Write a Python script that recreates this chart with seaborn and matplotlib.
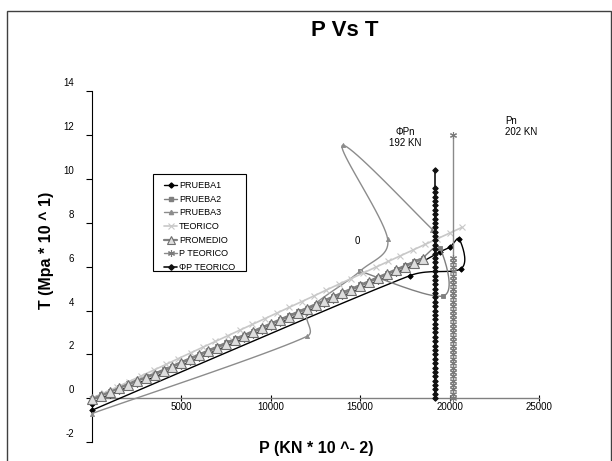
import numpy as np
import matplotlib
matplotlib.use("Agg")
import matplotlib.pyplot as plt
from matplotlib.lines import Line2D
from matplotlib.patches import Rectangle
from matplotlib.transforms import ScaledTranslation
import seaborn as sns

# ---------------- data: P (KN * 10^-2) vs T (Mpa * 10^1) ----------------
prueba1_p = [0, 500, 1000, 1500, 2000, 2500, 3000, 3500, 4000, 4500, 5000, 5500,
             6000, 6500, 7000, 7500, 8000, 8500, 9000, 9500, 10000, 10500, 11000,
             11500, 12000, 12500, 13000, 13500, 14000, 14500, 15000, 15500, 16000,
             16500, 17000, 17500, 18000, 18500, 19460, 20020, 20545, 20650, 17800, 0]
prueba1_t = [-0.25, 0.00, 0.16, 0.33, 0.50, 0.66, 0.82, 0.96, 1.14, 1.31, 1.49, 1.67,
             1.84, 2.02, 2.19, 2.37, 2.55, 2.72, 2.90, 3.07, 3.25, 3.43, 3.60,
             3.78, 3.95, 4.13, 4.31, 4.48, 4.66, 4.83, 5.01, 5.19, 5.36,
             5.54, 5.71, 5.89, 6.07, 6.24, 6.68, 6.90, 7.26, 5.92, 5.60, -0.55]

prueba2_p = [0, 500, 1000, 1500, 2000, 2500, 3000, 3500, 4000, 4500, 5000, 5500,
             6000, 6500, 7000, 7500, 8000, 8500, 9000, 9500, 10000, 10500, 11000,
             11500, 12000, 12500, 13000, 13500, 14000, 14500, 15000, 15500, 16000,
             16500, 17000, 17500, 18000, 18500, 19460, 19650, 14990]
prueba2_t = [0.01, 0.18, 0.34, 0.51, 0.68, 0.84, 1.00, 1.14, 1.32, 1.49, 1.67, 1.85,
             2.02, 2.20, 2.37, 2.55, 2.73, 2.90, 3.08, 3.25, 3.43, 3.61, 3.78,
             3.96, 4.13, 4.31, 4.49, 4.66, 4.84, 5.01, 5.19, 5.37, 5.54,
             5.72, 5.89, 6.07, 6.25, 6.42, 6.85, 4.67, 5.80]

prueba3_p = [0, 12040, 12080, 14990, 16540, 14020, 19040]
prueba3_t = [-0.70, 2.83, 4.00, 5.80, 7.25, 11.55, 7.70]

teorico_p = [0, 690, 1380, 2070, 2760, 3450, 4140, 4830, 5520, 6210, 6900, 7590,
             8280, 8970, 9660, 10350, 11040, 11730, 12420, 13110, 13800, 14490,
             15180, 15870, 16560, 17250, 17940, 18630, 19320, 20010, 20700]
teorico_t = [-0.02, 0.24, 0.50, 0.76, 1.02, 1.28, 1.54, 1.81, 2.07, 2.33, 2.59, 2.85,
             3.11, 3.37, 3.63, 3.89, 4.15, 4.41, 4.67, 4.94, 5.20, 5.46,
             5.72, 5.98, 6.24, 6.50, 6.76, 7.02, 7.28, 7.54, 7.80]

promedio_p = [0, 500, 1000, 1500, 2000, 2500, 3000, 3500, 4000, 4500, 5000, 5500,
              6000, 6500, 7000, 7500, 8000, 8500, 9000, 9500, 10000, 10500, 11000,
              11500, 12000, 12500, 13000, 13500, 14000, 14500, 15000, 15500, 16000,
              16500, 17000, 17500, 18000, 18500]
promedio_t = [-0.05, 0.12, 0.28, 0.45, 0.62, 0.78, 0.94, 1.08, 1.26, 1.43, 1.61, 1.79,
              1.96, 2.14, 2.31, 2.49, 2.67, 2.84, 3.02, 3.19, 3.37, 3.55, 3.72,
              3.90, 4.07, 4.25, 4.43, 4.60, 4.78, 4.95, 5.13, 5.31, 5.48,
              5.66, 5.83, 6.01, 6.19, 6.36]

pn_value = 20200       # Pn = 202 KN
phi_pn_value = 19200   # ΦPn = 192 KN
p_teorico_t = [0.0, 0.2, 0.4, 0.6, 0.8, 1.0, 1.2, 1.4, 1.6, 1.8, 2.0, 2.2, 2.4, 2.6,
               2.8, 3.0, 3.2, 3.4, 3.6, 3.8, 4.0, 4.2, 4.4, 4.6, 4.8, 5.0, 5.2, 5.4,
               5.6, 5.8, 6.0, 6.2, 6.4, 12.0]
p_teorico_p = [pn_value] * len(p_teorico_t)
phi_p_teorico_t = [0.0, 0.2, 0.4, 0.6, 0.8, 1.0, 1.2, 1.4, 1.6, 1.8, 2.0, 2.2, 2.4,
                   2.6, 2.8, 3.0, 3.2, 3.4, 3.6, 3.8, 4.0, 4.2, 4.4, 4.6, 4.8, 5.0,
                   5.2, 5.4, 5.6, 5.8, 6.0, 6.2, 6.4, 6.6, 6.8, 7.0, 7.2, 7.4, 7.6,
                   7.8, 8.0, 8.2, 8.4, 8.6, 8.8, 9.0, 9.2, 9.4, 9.6, 10.4]
phi_p_teorico_p = [phi_pn_value] * len(phi_p_teorico_t)

y_ticks = [-2, 0, 2, 4, 6, 8, 10, 12, 14]
x_ticks = [5000, 10000, 15000, 20000, 25000]

# ---------------- style ----------------
sns.set_style("white")
plt.rcParams["font.family"] = ["Liberation Sans", "DejaVu Sans"]
plt.rcParams["text.color"] = "#000000"
plt.rcParams["axes.labelcolor"] = "#000000"

W, H = 612, 461
fig = plt.figure(figsize=(W / 100, H / 100), dpi=100)
ax_l, ax_r, ax_t, ax_b = 92, 539, 91.5, 442
ax = fig.add_axes([ax_l / W, 1 - ax_b / H, (ax_r - ax_l) / W, (ax_b - ax_t) / H])
ax.set_xlim(0, 25000)
ax.set_ylim(-2, 14)

sx = (ax_r - ax_l) / 25000.0
sy = (ax_b - ax_t) / 16.0


def smooth_curve(px, py, n=20):
    """Bezier smoothing through the points (like a spreadsheet 'smoothed line')."""
    pts = np.column_stack([np.asarray(px, float) * sx, np.asarray(py, float) * sy])
    k = len(pts)
    t = np.linspace(0, 1, n + 1)[1:, None]
    out = [pts[0]]
    for i in range(k - 1):
        p0, p1 = pts[max(i - 1, 0)], pts[i]
        p2, p3 = pts[i + 1], pts[min(i + 2, k - 1)]
        lim = 0.4 * np.linalg.norm(p2 - p1)
        m1, m2 = (p2 - p0) / 6.0, (p3 - p1) / 6.0
        n1, n2 = np.linalg.norm(m1), np.linalg.norm(m2)
        if n1 > lim and n1 > 0:
            m1 = m1 * lim / n1
        if n2 > lim and n2 > 0:
            m2 = m2 * lim / n2
        c1, c2 = p1 + m1, p2 - m2
        seg = ((1 - t) ** 3) * p1 + 3 * ((1 - t) ** 2) * t * c1 + 3 * (1 - t) * t ** 2 * c2 + t ** 3 * p2
        out.extend(seg)
    out = np.array(out)
    return out[:, 0] / sx, out[:, 1] / sy


def smooth_series(px, py, color, lw, marker, ms, mfc, mec, z):
    cx, cy = smooth_curve(px, py)
    sns.lineplot(x=cx, y=cy, sort=False, estimator=None, color=color, lw=lw,
                 ax=ax, legend=False, zorder=z)
    ax.plot(px, py, ls="none", marker=marker, ms=ms, mfc=mfc, mec=mec,
            mew=0.6, zorder=z + 0.1, clip_on=False)


c_p1 = "#000000"
c_p2 = "#7f7f7f"
c_p3 = "#8c8c8c"
c_teo = "#c8c8c8"
c_prom = "#808080"
c_pteo = "#8a8a8a"
c_phi = "#111111"
asterisk = (6, 2, 0)

smooth_series(prueba1_p, prueba1_t, c_p1, 1.0, "D", 2.8, c_p1, c_p1, 3)
smooth_series(prueba2_p, prueba2_t, c_p2, 1.0, "s", 2.8, c_p2, c_p2, 3.2)
smooth_series(prueba3_p, prueba3_t, c_p3, 1.0, "^", 3.0, c_p3, c_p3, 3.4)

sns.lineplot(x=teorico_p, y=teorico_t, sort=False, estimator=None, color=c_teo,
             lw=1.2, marker="x", ms=4, mec=c_teo, mew=0.8, ax=ax, legend=False,
             zorder=4)
sns.lineplot(x=promedio_p, y=promedio_t, sort=False, estimator=None, color=c_prom,
             lw=1.6, marker="^", ms=7, mfc="#dedede", mec="#6e6e6e", mew=0.8,
             ax=ax, legend=False, zorder=5)
sns.lineplot(x=p_teorico_p, y=p_teorico_t, sort=False, estimator=None, color=c_pteo,
             lw=1.0, marker=asterisk, ms=5, mec="#7a7a7a", mew=0.8, ax=ax,
             legend=False, zorder=6)
sns.lineplot(x=phi_p_teorico_p, y=phi_p_teorico_t, sort=False, estimator=None,
             color=c_phi, lw=1.2, marker="D", ms=2.8, mfc=c_phi, mec=c_phi,
             ax=ax, legend=False, zorder=7)
for ln in ax.lines:
    ln.set_clip_on(False)

# ---------------- axes ----------------
for s in ("top", "right"):
    ax.spines[s].set_visible(False)
ax.spines["bottom"].set_position(("data", 0))
ax.spines["bottom"].set_bounds(0, 25000)
ax.spines["bottom"].set_color("#808080")
ax.spines["bottom"].set_linewidth(1.0)
ax.spines["left"].set_bounds(-2, 14)
ax.spines["left"].set_color("#000000")
ax.spines["left"].set_linewidth(0.8)
ax.set_xticks(x_ticks)
ax.set_yticks(y_ticks)
ax.set_xticklabels([str(v) for v in x_ticks])
ax.set_yticklabels([str(v) for v in y_ticks])
ax.tick_params(axis="y", direction="out", length=4, width=0.8, pad=9,
               labelsize=7, colors="#000000", left=True)
ax.tick_params(axis="x", direction="inout", length=5, width=0.8, pad=0,
               labelsize=7, colors="#000000", bottom=True)
ax.set_xlabel("")
ax.set_ylabel("")
ax.grid(False)
ax.patch.set_alpha(0)

lift = ScaledTranslation(0, 0.09, fig.dpi_scale_trans)
for tk in ax.yaxis.get_major_ticks():
    tk.label1.set_transform(tk.label1.get_transform() + lift)

# ---------------- texts ----------------
fig.text(345 / W, 1 - 30 / H, "P Vs T", ha="center", va="center",
         fontsize=16, fontweight="bold", color="#000000")
fig.text(47 / W, 1 - 250 / H, "T (Mpa * 10 ^ 1)", rotation=90, ha="center",
         va="center", fontsize=11.5, fontweight="bold", color="#000000")
fig.text(316 / W, 1 - 448 / H, "P (KN * 10 ^- 2)", ha="center", va="center",
         fontsize=11.5, fontweight="bold", color="#000000")

ax.text(17500, 11.9, "ΦPn\n192 KN", ha="center", va="center", fontsize=7,
        linespacing=1.15, color="#000000")
ax.text(23100, 12.4, "Pn\n202 KN", ha="left", va="center", fontsize=7,
        linespacing=1.15, color="#000000")
ax.text(14820, 7.17, "0", ha="center", va="center", fontsize=7, color="#000000")

# ---------------- legend ----------------
handles = [
    Line2D([], [], color=c_p1, lw=1.0, marker="D", ms=2.6, mfc=c_p1, mec=c_p1),
    Line2D([], [], color=c_p2, lw=1.0, marker="s", ms=2.8, mfc=c_p2, mec=c_p2),
    Line2D([], [], color=c_p3, lw=1.0, marker="^", ms=3.0, mfc=c_p3, mec=c_p3),
    Line2D([], [], color=c_teo, lw=1.2, marker="x", ms=4, mec=c_teo, mew=0.8),
    Line2D([], [], color=c_prom, lw=1.6, marker="^", ms=5.5, mfc="#dedede",
           mec="#6e6e6e", mew=0.8),
    Line2D([], [], color=c_pteo, lw=1.0, marker=asterisk, ms=5, mec="#7a7a7a",
           mew=0.8),
    Line2D([], [], color=c_phi, lw=1.2, marker="D", ms=2.8, mfc=c_phi, mec=c_phi),
]
labels = ["PRUEBA1", "PRUEBA2", "PRUEBA3", "TEORICO", "PROMEDIO", "P TEORICO",
          "ΦP TEORICO"]
leg = ax.legend(handles, labels, loc="upper left",
                bbox_to_anchor=((164 - ax_l) / (ax_r - ax_l), 1 - (181 - ax_t) / (ax_b - ax_t)),
                borderaxespad=0, borderpad=0, fontsize=6.5, frameon=False,
                labelspacing=0.52, handlelength=1.45, handletextpad=0.2,
                labelcolor="#000000")
leg.set_zorder(21)
# legend box, drawn in the axes just below the legend entries
box = Rectangle((152.5 / W, 1 - 271 / H), (245.5 - 152.5) / W,
                (271 - 174.5) / H, transform=fig.transFigure,
                facecolor="white", edgecolor="#000000", lw=0.8, zorder=20,
                clip_on=False)
ax.add_patch(box)

# outer frame
fig.patches.append(Rectangle((6.5 / W, -0.02), (610.5 - 6.5) / W, 1 - 10.5 / H + 0.02,
                             transform=fig.transFigure, fill=False,
                             edgecolor="#404040", lw=1.0))

fig.savefig("out.png", dpi=100)
